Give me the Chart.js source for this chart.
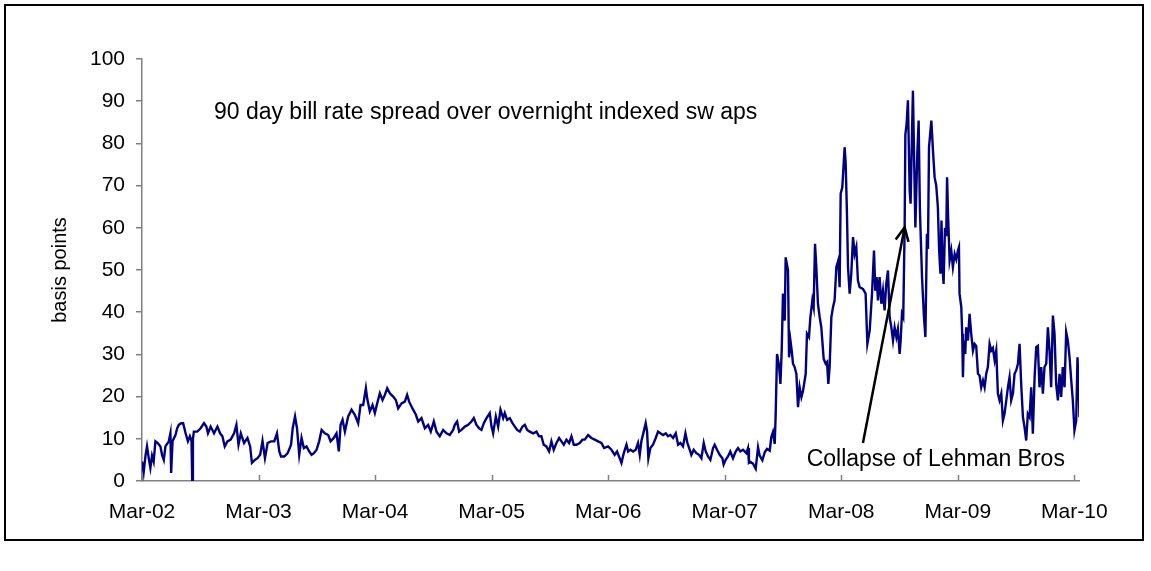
<!DOCTYPE html>
<html>
<head>
<meta charset="utf-8">
<script src="https://cdn.jsdelivr.net/npm/chart.js@4.4.1/dist/chart.umd.min.js"></script>
<style>
  html, body { margin: 0; padding: 0; background: #fff; }
  #wrap { position: relative; width: 1151px; height: 571px; overflow: hidden; }
  #chart { position: absolute; left: 0; top: 0; }
  #frame { position: absolute; left: 4px; top: 4px; width: 1140px; height: 537px; border: 2px solid #000; box-sizing: border-box; pointer-events: none; }
</style>
</head>
<body>
<div id="wrap">
  <canvas id="chart" width="1151" height="571"></canvas>
  <div id="frame"></div>
</div>
<script>
  // x = years since Mar-02, y = spread in basis points
  const xTickLabels = ["Mar-02", "Mar-03", "Mar-04", "Mar-05", "Mar-06", "Mar-07", "Mar-08", "Mar-09", "Mar-10"];
  const yTicks = [0, 10, 20, 30, 40, 50, 60, 70, 80, 90, 100];

  const spread2002 = [
    [0.00, 4.6], [0.014, 2.0], [0.03, 6.0], [0.043, 8.2], [0.058, 5.4], [0.072, 3.1], [0.086, 6.0], [0.10, 4.6],
    [0.115, 9.4], [0.135, 9.0], [0.158, 8.2], [0.172, 6.2], [0.187, 5.0], [0.201, 8.2], [0.23, 9.4], [0.244, 11.3],
    [0.25, 1.9], [0.262, 9.4], [0.287, 10.9], [0.302, 12.5], [0.316, 13.3], [0.336, 13.7], [0.353, 13.7], [0.374, 11.3],
    [0.394, 9.4], [0.411, 10.6], [0.425, 9.5], [0.431, 0], [0.437, 10.0], [0.445, 11.7], [0.474, 11.7], [0.503, 12.5],
    [0.532, 13.7], [0.552, 12.9], [0.566, 11.3], [0.589, 12.9], [0.618, 11.3], [0.647, 12.9], [0.67, 11.3], [0.69, 10.6],
    [0.71, 8.2], [0.733, 9.4], [0.761, 9.8], [0.79, 11.3], [0.81, 13.3], [0.828, 8.6], [0.848, 11.3], [0.876, 9.0],
    [0.905, 10.2], [0.928, 8.2], [0.943, 4.3], [0.968, 5.0], [0.991, 5.4]
  ];
  const spread2003 = [
    [1.014, 6.2], [1.034, 9.5], [1.055, 5.4], [1.078, 9.0], [1.106, 9.4], [1.135, 9.4], [1.158, 11.3], [1.178, 7.0],
    [1.193, 5.8], [1.221, 5.8], [1.25, 6.6], [1.279, 8.6], [1.293, 12.5], [1.313, 15.3], [1.33, 12.5], [1.349, 6.2],
    [1.369, 10.2], [1.389, 7.8], [1.412, 8.2], [1.435, 7.0], [1.455, 6.2], [1.475, 6.6], [1.498, 7.4], [1.52, 9.4],
    [1.541, 12.1], [1.569, 11.3], [1.598, 10.9], [1.618, 9.4], [1.646, 10.2], [1.669, 11.3], [1.689, 7.0], [1.704, 13.3],
    [1.721, 14.5], [1.741, 11.7], [1.769, 15.3], [1.798, 16.9], [1.826, 15.7], [1.855, 13.7], [1.875, 18.0], [1.898, 18.0],
    [1.921, 22.0], [1.932, 19.6], [1.955, 16.5], [1.978, 18.0], [1.998, 16.1]
  ];
  const spread2004 = [
    [2.018, 18.4], [2.041, 20.8], [2.064, 19.2], [2.084, 20.4], [2.104, 22.0], [2.127, 20.8], [2.155, 20.0], [2.178, 19.2],
    [2.198, 17.2], [2.227, 18.4], [2.255, 18.8], [2.275, 20.4], [2.292, 18.8], [2.321, 17.2], [2.35, 15.7], [2.37, 14.1],
    [2.398, 14.9], [2.427, 12.5], [2.455, 13.3], [2.478, 11.7], [2.504, 14.1], [2.527, 11.7], [2.555, 10.6], [2.584, 12.1],
    [2.613, 11.3], [2.641, 10.9], [2.67, 12.1], [2.684, 13.3], [2.704, 14.1], [2.721, 11.7], [2.741, 12.1], [2.77, 12.9],
    [2.799, 13.3], [2.827, 14.1], [2.847, 14.9], [2.87, 13.3], [2.893, 12.5], [2.913, 12.1], [2.933, 13.7], [2.956, 14.9],
    [2.984, 16.1]
  ];
  const spread2005 = [
    [2.999, 12.9], [3.013, 11.3], [3.036, 15.3], [3.056, 12.9], [3.076, 16.9], [3.099, 14.9], [3.113, 16.1], [3.133, 14.5],
    [3.156, 14.9], [3.179, 13.7], [3.199, 12.9], [3.219, 12.1], [3.242, 11.7], [3.265, 12.9], [3.285, 13.3], [3.305, 12.1],
    [3.327, 11.7], [3.356, 11.3], [3.385, 11.7], [3.407, 10.6], [3.427, 10.6], [3.447, 8.6], [3.47, 8.2], [3.493, 7.0],
    [3.513, 9.4], [3.533, 7.4], [3.556, 9.0], [3.579, 10.2], [3.599, 9.4], [3.619, 8.6], [3.642, 9.8], [3.665, 9.0],
    [3.685, 10.6], [3.705, 8.6], [3.728, 8.6], [3.756, 9.0], [3.779, 9.8], [3.799, 9.8], [3.828, 10.9], [3.856, 10.2],
    [3.885, 9.8], [3.913, 9.4], [3.942, 9.0], [3.965, 7.8], [3.999, 8.2]
  ];
  const spread2006 = [
    [4.028, 7.4], [4.056, 6.2], [4.076, 7.0], [4.099, 5.4], [4.114, 4.3], [4.134, 6.6], [4.157, 8.6], [4.171, 7.0],
    [4.191, 7.4], [4.214, 7.0], [4.236, 7.4], [4.256, 9.0], [4.271, 6.2], [4.285, 9.4], [4.305, 11.7], [4.322, 13.7],
    [4.334, 11.7], [4.345, 5.4], [4.362, 7.8], [4.385, 8.6], [4.408, 10.2], [4.428, 11.7], [4.448, 11.3], [4.471, 10.9],
    [4.494, 11.3], [4.514, 10.6], [4.534, 10.9], [4.557, 10.2], [4.58, 11.3], [4.6, 8.6], [4.62, 9.0], [4.642, 8.2],
    [4.663, 11.3], [4.68, 9.0], [4.70, 7.4], [4.714, 6.2], [4.734, 7.4], [4.757, 6.6], [4.78, 6.2], [4.80, 5.4],
    [4.82, 9.0], [4.837, 7.0], [4.857, 5.8], [4.877, 5.0], [4.90, 7.8], [4.914, 8.6], [4.934, 7.4], [4.957, 6.2],
    [4.98, 5.4], [4.991, 3.9]
  ];
  const spread2007 = [
    [5.008, 5.0], [5.028, 5.8], [5.048, 7.0], [5.071, 5.4], [5.094, 7.0], [5.114, 7.8], [5.134, 7.0], [5.157, 7.4],
    [5.186, 6.6], [5.20, 7.8], [5.208, 4.3], [5.22, 4.5], [5.243, 4.1], [5.266, 2.9], [5.286, 8.0], [5.30, 6.0],
    [5.323, 4.9], [5.343, 6.8], [5.363, 7.6], [5.386, 7.2], [5.40, 10.4], [5.414, 11.6], [5.429, 8.8], [5.437, 15.5],
    [5.449, 30.1], [5.466, 27.4], [5.478, 23.0], [5.489, 30.9], [5.50, 44.4], [5.515, 38.0], [5.523, 53.0], [5.543, 49.9],
    [5.552, 29.3], [5.564, 33.3], [5.575, 30.9], [5.586, 27.8], [5.60, 27.0], [5.615, 25.4], [5.629, 17.5], [5.643, 22.2],
    [5.658, 19.9], [5.672, 21.4], [5.695, 25.4], [5.706, 34.9], [5.723, 34.1], [5.735, 38.8], [5.752, 42.8], [5.763, 41.2],
    [5.775, 56.2], [5.786, 50.7], [5.80, 42.0], [5.815, 38.8], [5.829, 36.4], [5.849, 29.0], [5.866, 27.8], [5.878, 28.2],
    [5.889, 23.0], [5.90, 27.0], [5.915, 38.8], [5.929, 41.2], [5.943, 42.8], [5.958, 50.7], [5.975, 52.3], [5.986, 45.9],
    [5.995, 68.1]
  ];
  const spread2008 = [
    [6.009, 69.6], [6.029, 79.1], [6.038, 75.2], [6.049, 63.3], [6.058, 50.7], [6.072, 44.4], [6.086, 49.1], [6.101, 57.8],
    [6.115, 53.8], [6.129, 55.4], [6.143, 47.5], [6.158, 45.9], [6.186, 45.5], [6.209, 44.4], [6.224, 32.5], [6.244, 35.7],
    [6.264, 44.4], [6.281, 54.6], [6.292, 45.1], [6.304, 48.3], [6.315, 42.8], [6.329, 48.3], [6.344, 42.0], [6.358, 45.1],
    [6.372, 40.4], [6.386, 46.7], [6.401, 49.9], [6.415, 38.8], [6.43, 36.4], [6.444, 33.3], [6.458, 36.4], [6.473, 34.1],
    [6.486, 36.0], [6.501, 30.1], [6.509, 33.0], [6.521, 39.6], [6.532, 38.8], [6.544, 60.1], [6.55, 82.1], [6.561, 84.6],
    [6.572, 90.2], [6.587, 68.8], [6.595, 65.7], [6.607, 82.1], [6.615, 92.5], [6.624, 78.3], [6.636, 60.1], [6.653, 78.0],
    [6.664, 85.4], [6.675, 64.1], [6.693, 48.3], [6.71, 38.8], [6.722, 34.1], [6.735, 58.6], [6.744, 55.0], [6.753, 79.1],
    [6.773, 85.4], [6.787, 78.3], [6.801, 72.0], [6.815, 70.0], [6.829, 64.9], [6.84, 54.6], [6.851, 49.1], [6.86, 61.7],
    [6.869, 50.7], [6.878, 46.7], [6.89, 60.0], [6.901, 58.0], [6.908, 72.0], [6.917, 62.5], [6.93, 52.3], [6.944, 54.6],
    [6.958, 50.7], [6.973, 53.8], [6.987, 52.5]
  ];
  const spread2009 = [
    [7.001, 54.6], [7.01, 55.4], [7.015, 44.4], [7.03, 41.2], [7.038, 34.9], [7.044, 24.6], [7.052, 33.3], [7.064, 30.1],
    [7.072, 36.4], [7.087, 33.3], [7.101, 39.6], [7.115, 34.9], [7.13, 30.9], [7.144, 32.5], [7.158, 32.0], [7.173, 25.4],
    [7.187, 25.0], [7.201, 22.2], [7.216, 23.8], [7.23, 22.2], [7.244, 25.4], [7.258, 27.0], [7.273, 32.5], [7.287, 30.9],
    [7.301, 31.5], [7.316, 28.6], [7.33, 30.9], [7.344, 20.7], [7.358, 19.1], [7.373, 20.7], [7.387, 14.3], [7.401, 15.9],
    [7.416, 19.1], [7.43, 22.2], [7.444, 24.6], [7.458, 19.1], [7.473, 20.7], [7.487, 25.4], [7.501, 26.2], [7.516, 27.8],
    [7.53, 32.5], [7.544, 23.0], [7.559, 15.1], [7.573, 12.7], [7.587, 9.6], [7.601, 15.9], [7.616, 15.1], [7.63, 22.2],
    [7.644, 11.2], [7.659, 24.6], [7.673, 31.7], [7.687, 32.0], [7.701, 22.2], [7.716, 27.0], [7.73, 20.7], [7.744, 27.0],
    [7.759, 27.8], [7.773, 36.4], [7.787, 30.9], [7.801, 22.2], [7.816, 39.2], [7.83, 34.9], [7.844, 23.0], [7.859, 19.1],
    [7.873, 25.4], [7.887, 19.9], [7.901, 27.0], [7.916, 22.2], [7.93, 35.3], [7.944, 33.3], [7.959, 29.3], [7.973, 24.0],
    [7.987, 19.1]
  ];
  const spread2010 = [
    [8.001, 12.0], [8.016, 14.3], [8.027, 29.3], [8.038, 22.0], [8.044, 15.1]
  ];

  const spreadLabel = "90 day bill rate spread over overnight indexed sw aps";
  const lehmanLabel = "Collapse of Lehman Bros";
  const lehmanPoint = [6.544, 60.1];   // arrow tip, on the series
  const lehmanTail = [6.186, 9.0];     // arrow tail, above the label

  const series = [].concat(spread2002, spread2003, spread2004, spread2005, spread2006,
    spread2007, spread2008, spread2009, spread2010).map(([x, y]) => ({ x, y }));

  const FONT = '"Liberation Sans", Arial, sans-serif';
  const AXIS_GREY = "#808080";

  const annotations = {
    id: "annotations",
    afterDatasetsDraw(chart) {
      const { ctx, scales: { x, y } } = chart;
      ctx.save();

      // inward tick marks on the date axis
      ctx.strokeStyle = AXIS_GREY;
      ctx.lineWidth = 1.5;
      const base = y.getPixelForValue(0);
      xTickLabels.forEach((_, i) => {
        const px = Math.round(x.getPixelForValue(i)) + 0.5;
        ctx.beginPath();
        ctx.moveTo(px, base);
        ctx.lineTo(px, base - 6);
        ctx.stroke();
      });

      // texts
      ctx.fillStyle = "#000";
      ctx.font = "23px " + FONT;
      ctx.textBaseline = "middle";
      ctx.fillText(spreadLabel, x.getPixelForValue(0.617), y.getPixelForValue(87.2));
      ctx.fillText(lehmanLabel, x.getPixelForValue(5.703), y.getPixelForValue(5.0));

      // arrow
      const x1 = x.getPixelForValue(lehmanTail[0]);
      const y1 = y.getPixelForValue(lehmanTail[1]);
      const x2 = x.getPixelForValue(lehmanPoint[0]);
      const y2 = y.getPixelForValue(lehmanPoint[1]);
      ctx.strokeStyle = "#000";
      ctx.lineWidth = 2.5;
      ctx.beginPath();
      ctx.moveTo(x1, y1);
      ctx.lineTo(x2, y2);
      ctx.stroke();
      const ang = Math.atan2(y1 - y2, x1 - x2);
      const len = 15;
      ctx.beginPath();
      ctx.moveTo(x2 + len * Math.cos(ang - 0.45), y2 + len * Math.sin(ang - 0.45));
      ctx.lineTo(x2, y2);
      ctx.lineTo(x2 + len * Math.cos(ang + 0.45), y2 + len * Math.sin(ang + 0.45));
      ctx.stroke();
      ctx.restore();
    }
  };

  new Chart(document.getElementById("chart"), {
    type: "line",
    data: {
      datasets: [{
        data: series,
        borderColor: "#000080",
        borderWidth: 2.4,
        pointRadius: 0,
        tension: 0,
        fill: false
      }]
    },
    options: {
      responsive: false,
      animation: false,
      events: [],
      layout: { padding: { left: 0, right: 72, top: 59, bottom: 0 } },
      plugins: { legend: { display: false }, tooltip: { enabled: false } },
      scales: {
        x: {
          type: "linear",
          min: 0,
          max: 8.04,
          afterBuildTicks(scale) {
            scale.ticks = xTickLabels.map((_, i) => ({ value: i }));
          },
          afterFit(scale) { scale.height = 90; },
          grid: { display: false },
          border: { display: true, color: AXIS_GREY, width: 1.5 },
          ticks: {
            autoSkip: false,
            maxRotation: 0,
            padding: 11,
            color: "#000",
            font: { family: FONT, size: 21 },
            callback: (value, index) => xTickLabels[index]
          }
        },
        y: {
          min: 0,
          max: 100,
          afterBuildTicks(scale) {
            scale.ticks = yTicks.map(v => ({ value: v }));
          },
          afterFit(scale) { scale.width = 142; },
          grid: { drawOnChartArea: false, drawTicks: true, tickLength: 6, color: AXIS_GREY, lineWidth: 1.5 },
          border: { display: true, color: AXIS_GREY, width: 1.5 },
          ticks: {
            padding: 11,
            color: "#000",
            font: { family: FONT, size: 21 }
          },
          title: {
            display: true,
            text: "basis points",
            color: "#000",
            font: { family: FONT, size: 20 },
            padding: { top: 48, bottom: 0 }
          }
        }
      }
    },
    plugins: [annotations]
  });
</script>
</body>
</html>
